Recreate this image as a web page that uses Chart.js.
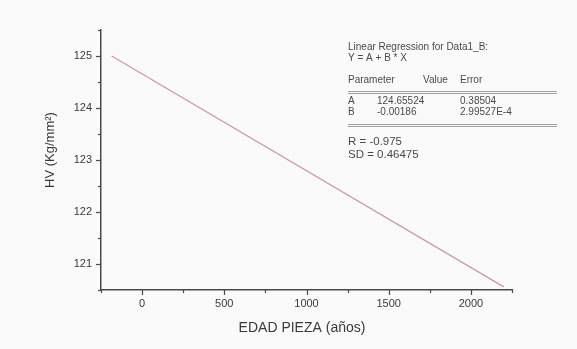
<!DOCTYPE html>
<html>
<head>
<meta charset="utf-8">
<script src="https://cdn.jsdelivr.net/npm/chart.js@4.4.1/dist/chart.umd.min.js"></script>
<style>
  html, body { margin: 0; padding: 0; background: #fafafa; }
  #wrap { width: 577px; height: 349px; }
</style>
</head>
<body>
<div id="wrap"><canvas id="hvChart" width="577" height="349"></canvas></div>
<script>
// fitted line
var edad = [-185, 2200];
var hv = [125.0, 120.56];

var xTitle = 'EDAD PIEZA (años)';
var yTitle = 'HV (Kg/mm²)';

var fitLines = [
    'Linear Regression for Data1_B:',
    'Y = A + B * X'
];
var paramHead = ['Parameter', 'Value', 'Error'];
var paramNames = ['A', 'B'];
var paramValues = ['124.65524', '-0.00186'];
var paramErrors = ['0.38504', '2.99527E-4'];
var statLines = ['R = -0.975', 'SD = 0.46475'];

var axisColor = '#4a4a4a';
var textColor = '#3a3a3a';
var fontFam = '"Liberation Sans", Arial, sans-serif';

var points = edad.map(function (x, i) { return { x: x, y: hv[i] }; });

// axes ticks, titles and the regression box
var decor = {
    id: 'decor',
    afterDraw: function (chart) {
        var ctx = chart.ctx;
        var xs = chart.scales.x, ys = chart.scales.y;
        var area = chart.chartArea;
        ctx.save();
        ctx.strokeStyle = axisColor;
        ctx.lineWidth = 1.2;
        xs.ticks.forEach(function (t) {
            var px = Math.round(xs.getPixelForValue(t.value)) + 0.5;
            var major = t.value % 500 === 0;
            ctx.beginPath();
            ctx.moveTo(px, area.bottom);
            ctx.lineTo(px, area.bottom + (major ? 5 : 3));
            ctx.stroke();
        });
        ys.ticks.forEach(function (t) {
            var py = Math.round(ys.getPixelForValue(t.value)) + 0.5;
            var major = Math.abs(t.value % 1) < 1e-6;
            ctx.beginPath();
            ctx.moveTo(area.left, py);
            ctx.lineTo(area.left - (major ? 5 : 3), py);
            ctx.stroke();
        });

        // axis titles
        ctx.fillStyle = textColor;
        ctx.font = '14px ' + fontFam;
        ctx.textAlign = 'center';
        ctx.textBaseline = 'middle';
        ctx.fillText(xTitle, 302, 328);
        ctx.save();
        ctx.translate(50, 150);
        ctx.rotate(-Math.PI / 2);
        ctx.font = '13px ' + fontFam;
        ctx.fillText(yTitle, 0, 0);
        ctx.restore();

        // regression box
        ctx.fillStyle = '#4a4a4a';
        ctx.textAlign = 'left';
        ctx.font = '10px ' + fontFam;
        ctx.fillText(fitLines[0], 348, 47);
        ctx.fillText(fitLines[1], 348, 58);
        ctx.fillText(paramHead[0], 348, 80);
        ctx.fillText(paramHead[1], 423, 80);
        ctx.fillText(paramHead[2], 460, 80);
        for (var i = 0; i < paramNames.length; i++) {
            var yy = 101 + i * 11;
            ctx.fillText(paramNames[i], 348, yy);
            ctx.fillText(paramValues[i], 377, yy);
            ctx.fillText(paramErrors[i], 460, yy);
        }
        ctx.strokeStyle = '#8a8a8a';
        ctx.lineWidth = 0.8;
        [91, 93, 124, 126].forEach(function (ly) {
            ctx.beginPath();
            ctx.moveTo(348, ly + 0.5);
            ctx.lineTo(557, ly + 0.5);
            ctx.stroke();
        });
        ctx.font = '11.5px ' + fontFam;
        ctx.fillText(statLines[0], 348, 142);
        ctx.fillText(statLines[1], 348, 155);
        ctx.restore();
    }
};

const ctx = document.getElementById('hvChart').getContext('2d');
const hvChart = new Chart(ctx, {
    type: 'scatter',
    data: {
        datasets: [{
            data: points,
            showLine: true,
            borderColor: '#c99aa1',
            borderWidth: 1.2,
            pointRadius: 0,
            fill: false
        }]
    },
    options: {
        responsive: false,
        animation: false,
        layout: { padding: { top: 30, right: 65, left: 0, bottom: 0 } },
        plugins: { legend: { display: false }, tooltip: { enabled: false } },
        scales: {
            x: {
                type: 'linear',
                min: -250,
                max: 2250,
                ticks: {
                    stepSize: 250,
                    autoSkip: false,
                    maxRotation: 0,
                    padding: 7,
                    color: textColor,
                    font: { family: fontFam, size: 11 },
                    callback: function (v) { return v % 500 === 0 ? v : ''; }
                },
                grid: { display: false, drawTicks: false, tickLength: 0 },
                border: { display: true, color: axisColor, width: 1.5 },
                afterFit: function (scale) { scale.height = 59; }
            },
            y: {
                min: 120.5,
                max: 125.5,
                ticks: {
                    stepSize: 0.5,
                    autoSkip: false,
                    padding: 9,
                    color: textColor,
                    font: { family: fontFam, size: 11 },
                    callback: function (v) { return Math.abs(v % 1) < 1e-6 ? v : ''; }
                },
                grid: { display: false, drawTicks: false, tickLength: 0 },
                border: { display: true, color: axisColor, width: 1.5 },
                afterFit: function (scale) { scale.width = 101; }
            }
        }
    },
    plugins: [decor]
});
</script>
</body>
</html>
